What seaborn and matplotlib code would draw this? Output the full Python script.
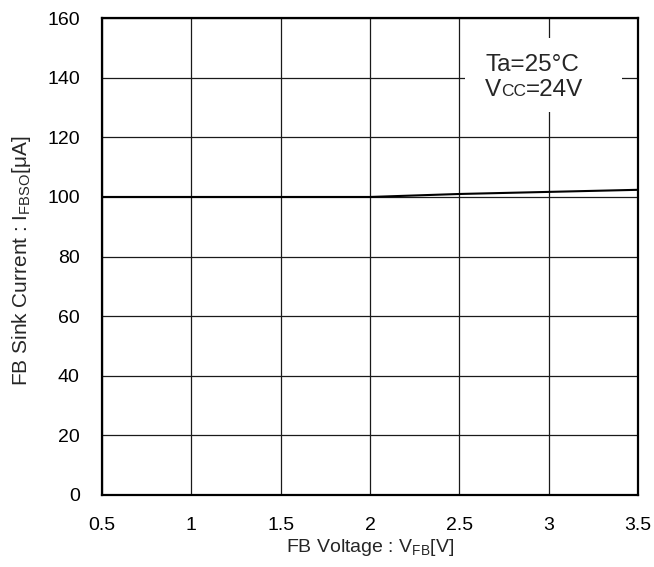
import matplotlib
matplotlib.use('Agg')
import matplotlib.pyplot as plt
import seaborn as sns
import pandas as pd
from matplotlib.patches import Rectangle
from matplotlib.offsetbox import TextArea, HPacker, AnchoredOffsetbox

# FB sink current vs FB voltage
fb_voltage = [0.5, 1.0, 1.5, 2.0, 2.5, 3.0, 3.5]
sink_current = [100.0, 100.0, 100.0, 100.0, 101.0, 101.7, 102.4]

x_ticks = [0.5, 1, 1.5, 2, 2.5, 3, 3.5]
x_tick_labels = ['0.5', '1', '1.5', '2', '2.5', '3', '3.5']
y_ticks = [0, 20, 40, 60, 80, 100, 120, 140, 160]

sns.set_style('white')
plt.rcParams['font.family'] = ['Liberation Sans', 'DejaVu Sans']
plt.rcParams['mathtext.fontset'] = 'custom'
plt.rcParams['mathtext.rm'] = 'Liberation Sans'

df = pd.DataFrame({'V': fb_voltage, 'I': sink_current})

fig = plt.figure(figsize=(6.54, 5.67), dpi=100)
ax = fig.add_axes([0.156, 0.127, 0.8195, 0.841])
ax.set_axisbelow(True)

sns.lineplot(data=df, x='V', y='I', ax=ax, color='black', linewidth=1.5, zorder=3)

ax.set_xlim(0.5, 3.5)
ax.set_ylim(0, 160)
ax.set_xticks(x_ticks)
ax.set_xticklabels(x_tick_labels)
ax.set_yticks(y_ticks)
ax.grid(True, color='#1a1a1a', linewidth=0.9)
ax.tick_params(axis='x', length=0, labelsize=14, pad=16, colors='black')
ax.tick_params(axis='y', length=0, labelsize=14, pad=16, colors='black')
for s in ax.spines.values():
    s.set_color('black')
    s.set_linewidth(1.6)
    s.set_zorder(4)

ax.set_xlabel(r'FB Voltage : V$_{\mathregular{FB}}$[V]', fontsize=14, labelpad=2)
ax.set_ylabel(r'FB Sink Current : I$_{\mathregular{FBSO}}$[μA]', fontsize=15)
ax.yaxis.set_label_coords(-0.128, 0.49)

# condition box
ax.add_patch(Rectangle((0.677, 0.803), 0.293, 0.155, transform=ax.transAxes,
                       facecolor='white', edgecolor='none', zorder=1))
ax.text(0.715, 0.889, 'Ta=25°C', transform=ax.transAxes, fontsize=17.5,
        ha='left', va='baseline', zorder=5)
parts = HPacker(children=[TextArea('V', textprops=dict(fontsize=17.5)),
                          TextArea('CC', textprops=dict(fontsize=12.5)),
                          TextArea('=24V', textprops=dict(fontsize=17.5))],
                align='baseline', pad=0, sep=0)
box = AnchoredOffsetbox(loc='lower left', child=parts, pad=0, borderpad=0,
                        frameon=False, bbox_to_anchor=(0.715, 0.826),
                        bbox_transform=ax.transAxes)
box.set_zorder(5)
ax.add_artist(box)

fig.savefig('out.png', dpi=100)
